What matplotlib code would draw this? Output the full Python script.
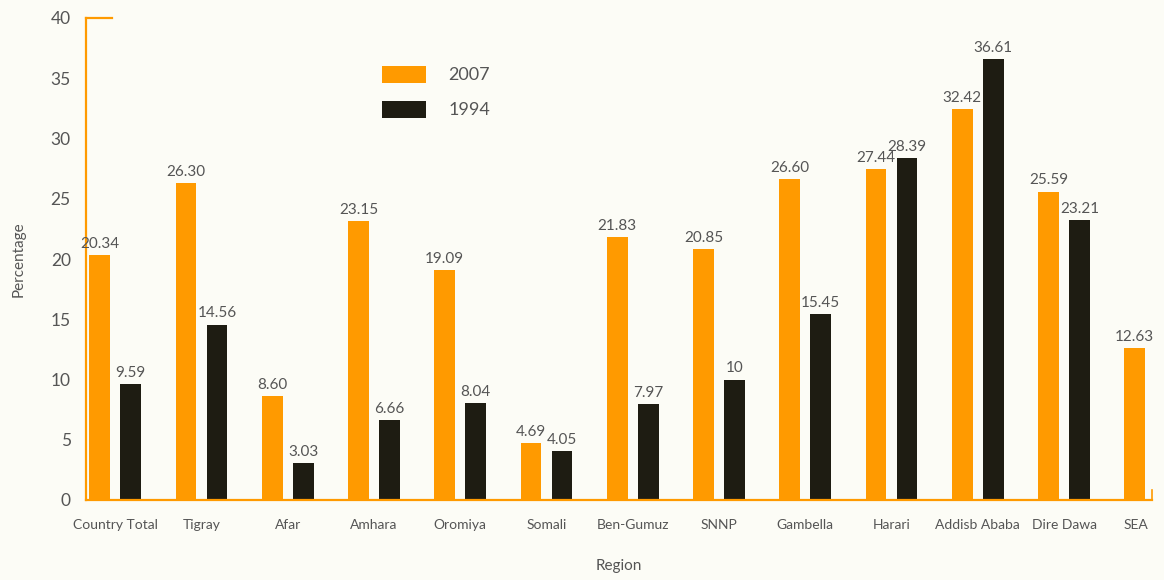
import matplotlib
matplotlib.use("Agg")
import matplotlib.pyplot as plt
import matplotlib.transforms as mtransforms
import numpy as np

regions = ["Country Total", "Tigray", "Afar", "Amhara", "Oromiya", "Somali",
           "Ben-Gumuz", "SNNP", "Gambella", "Harari", "Addisb Ababa",
           "Dire Dawa", "SEA"]
v2007 = [20.34, 26.30, 8.60, 23.15, 19.09, 4.69, 21.83, 20.85, 26.60, 27.44,
         32.42, 25.59, 12.63]
v1994 = [9.59, 14.56, 3.03, 6.66, 8.04, 4.05, 7.97, 10, 15.45, 28.39,
         36.61, 23.21, np.nan]
lab2007 = ["20.34", "26.30", "8.60", "23.15", "19.09", "4.69", "21.83",
           "20.85", "26.60", "27.44", "32.42", "25.59", "12.63"]
lab1994 = ["9.59", "14.56", "3.03", "6.66", "8.04", "4.05", "7.97", "10",
           "15.45", "28.39", "36.61", "23.21", ""]
yticks = [0, 5, 10, 15, 20, 25, 30, 35, 40]

ORANGE = "#FF9A00"
DARK = "#1e1c12"
GREY = "#555555"
BG = "#fcfcf6"

plt.rcParams['font.family'] = ['Lato', 'DejaVu Sans']

fig = plt.figure(figsize=(11.64, 5.8), dpi=100, facecolor=BG)
ax = fig.add_axes([86/1164, 1-500/580, (1152-86)/1164, (500-18)/580])
ax.set_facecolor(BG)

x = np.arange(len(regions))
w = 0.24
off = 0.18
ax.bar(x - off, v2007, w, color=ORANGE, label="2007")
ax.bar(x + off, v1994, w, color=DARK, label="1994")

for xi, v, s in zip(x, v2007, lab2007):
    ax.annotate(s, (xi - off, v), xytext=(0, 3), textcoords="offset points",
                ha="center", va="bottom", fontsize=11, color=GREY)
for xi, v, s in zip(x, v1994, lab1994):
    if s:
        ax.annotate(s, (xi + off, v), xytext=(0, 3), textcoords="offset points",
                    ha="center", va="bottom", fontsize=11, color=GREY)

ax.set_xlim(-0.34, 12.02)
ax.set_ylim(0, 40)
ax.set_yticks(yticks)
ax.set_yticklabels([str(t) for t in yticks], fontsize=12.5, color=GREY)
ax.set_xticks(x)
ax.set_xticklabels(regions, fontsize=10, color=GREY)
ax.tick_params(axis='both', length=0)
ax.tick_params(axis='y', pad=11)
ax.tick_params(axis='x', pad=14)

lbl = ax.get_xticklabels()[-1]
lbl.set_transform(lbl.get_transform() + mtransforms.ScaledTranslation(-14/100, 0, fig.dpi_scale_trans))

for s in ["top", "right"]:
    ax.spines[s].set_visible(False)
for s in ["left", "bottom"]:
    ax.spines[s].set_color(ORANGE)
    ax.spines[s].set_linewidth(1.6)

ax.plot([0, 26/1066], [1, 1], transform=ax.transAxes, color=ORANGE, lw=1.6, clip_on=False)
ax.plot([1, 1], [0, 10/482], transform=ax.transAxes, color=ORANGE, lw=1.2, clip_on=False)

ax.set_ylabel("Percentage", fontsize=11, color=GREY, labelpad=18)
ax.set_xlabel("Region", fontsize=11, color=GREY, labelpad=20)

leg = ax.legend(loc="upper left", bbox_to_anchor=(0.262, 0.935), frameon=False,
                fontsize=13, handlelength=2.45, handleheight=1.1,
                labelspacing=0.95, handletextpad=1.25)
for t in leg.get_texts():
    t.set_color(GREY)

fig.savefig("out.png", dpi=100, facecolor=BG)
